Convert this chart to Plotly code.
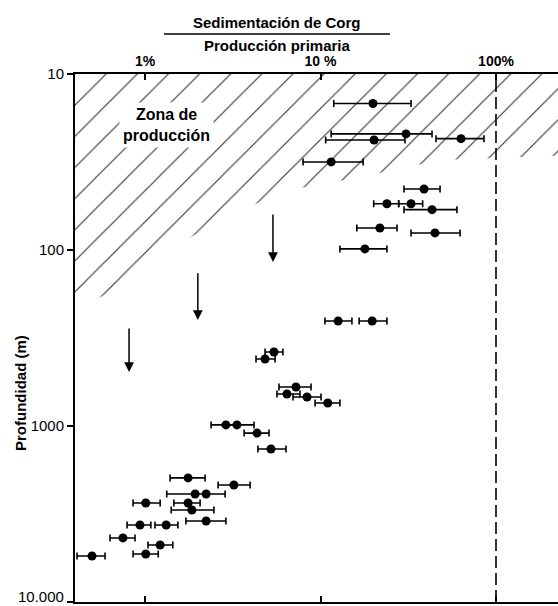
import numpy as np
import plotly.graph_objects as go

# --- data (ratio in %, depth in m) ---
ratio = [19.9, 30.7, 20.2, 63.2, 11.5, 38.9, 23.9, 32.8, 43.2, 21.8, 44.9, 17.9,
         12.6, 19.7, 5.43, 4.83, 7.25, 6.44, 8.38, 11.0, 2.89, 3.34, 4.35, 5.22,
         1.76, 3.21, 1.93, 2.23, 1.01, 1.76, 1.85, 0.936, 1.32, 2.23, 0.749, 1.22,
         0.499, 1.01]
ratio_lo = [11.9, 11.5, 10.7, 45.5, 7.95, 29.9, 20.1, 27.9, 29.9, 16.1, 32.8, 12.9,
            10.6, 16.6, 4.83, 4.29, 5.80, 5.65, 6.97, 9.31, 2.38, 2.89, 3.67, 4.40,
            1.39, 2.61, 1.33, 1.93, 0.855, 1.46, 1.41, 0.790, 1.14, 1.71, 0.632, 1.04,
            0.410, 0.855]
ratio_hi = [32.8, 43.2, 30.3, 85.4, 17.5, 48.0, 27.9, 38.2, 59.9, 27.3, 62.4, 23.9,
            15.1, 23.9, 6.11, 5.51, 8.83, 7.64, 10.07, 12.9, 3.34, 4.18, 5.09, 6.36,
            2.20, 3.97, 1.93, 2.86, 1.22, 2.06, 2.47, 1.08, 1.54, 2.89, 0.877, 1.44,
            0.592, 1.19]
depth = [14.7, 21.9, 23.7, 23.3, 31.6, 45.0, 54.6, 54.6, 59.0, 75.0, 80.0, 98.6,
         253, 253, 380, 416, 600, 658, 684, 740, 986, 986, 1097, 1352,
         1972, 2163, 2433, 2433, 2738, 2738, 3000, 3652, 3652, 3467, 4325, 4745,
         5482, 5337]

# upper-limit arrows (ratio %, depth top, depth bottom)
arrow_x = [5.36, 2.0, 0.811]
arrow_y0 = [61.7, 133, 274]
arrow_y1 = [117, 250, 493]

# production zone boundary
zone_x = [0.39, 0.74, 1.74, 3.39, 5.51, 7.64, 11.3, 23.3, 48.0, 300]
zone_y = [219, 162, 86.6, 60.0, 49.3, 44.5, 41.6, 36.1, 30.8, 28.8]

x_ticks = [1, 10, 100]
x_ticktext = ["1%", "10 %", "100%"]
y_ticks = [10, 100, 1000, 10000]
y_ticktext = ["10", "100", "1000", "10.000"]

FONT = "Liberation Sans, Arial, sans-serif"

fig = go.Figure()

# hatched production zone
poly_x = zone_x + [300, 0.39]
poly_y = zone_y + [8, 8]
fig.add_trace(go.Scatter(
    x=poly_x, y=poly_y, mode="lines", fill="toself",
    line=dict(width=0, color="rgba(0,0,0,0)"),
    fillcolor="white",
    fillpattern=dict(shape="/", size=22, solidity=0.05, fgcolor="#333",
                     bgcolor="white", fillmode="replace"),
    hoverinfo="skip", showlegend=False))

r = np.array(ratio)
fig.add_trace(go.Scatter(
    x=ratio, y=depth, mode="markers",
    marker=dict(color="black", size=9, line=dict(width=0)),
    error_x=dict(type="data", symmetric=False,
                 array=list(np.array(ratio_hi) - r),
                 arrayminus=list(r - np.array(ratio_lo)),
                 color="black", thickness=1.6, width=3.5),
    showlegend=False))

# dashed 100% line
fig.add_shape(type="line", xref="x", yref="paper", x0=100, x1=100, y0=0, y1=1,
              line=dict(color="black", width=1.6, dash="12px,5px"))

# arrows
for ax_, y0, y1 in zip(arrow_x, arrow_y0, arrow_y1):
    fig.add_annotation(x=np.log10(ax_), y=np.log10(y1), ax=np.log10(ax_), ay=np.log10(y0),
                       xref="x", yref="y", axref="x", ayref="y", text="",
                       showarrow=True, arrowhead=2, arrowsize=1.3, arrowwidth=1.5,
                       arrowcolor="black")

fig.add_annotation(x=np.log10(1.32), y=np.log10(19.5), xref="x", yref="y",
                   text="<b>Zona de<br>producción</b>", showarrow=False,
                   font=dict(family=FONT, size=16, color="black"),
                   bgcolor="white", borderpad=3)

# title (fraction)
fig.add_annotation(xref="paper", yref="paper", x=(277 - 75) / 483, y=1 + (74 - 23) / 528,
                   text="<b>Sedimentación de Corg</b>", showarrow=False,
                   font=dict(family=FONT, size=15, color="black"), yanchor="middle")
fig.add_annotation(xref="paper", yref="paper", x=(277 - 75) / 483, y=1 + (74 - 45) / 528,
                   text="<b>Producción primaria</b>", showarrow=False,
                   font=dict(family=FONT, size=15, color="black"), yanchor="middle")
fig.add_shape(type="line", xref="paper", yref="paper",
              x0=(164 - 75) / 483, x1=(390 - 75) / 483,
              y0=1 + (74 - 34) / 528, y1=1 + (74 - 34) / 528,
              line=dict(color="black", width=1.5))

# y title
fig.add_annotation(xref="paper", yref="paper", x=(20 - 75) / 483, y=(602 - 393) / 528,
                   text="<b>Profundidad (m)</b>", textangle=-90, showarrow=False,
                   font=dict(family=FONT, size=15, color="black"),
                   xanchor="center", yanchor="middle")

# bottom tick label placed slightly higher so it stays inside the page
fig.add_annotation(xref="paper", yref="paper", x=-(6 + 3) / 483, y=0,
                   text=y_ticktext[-1], showarrow=False, xanchor="right",
                   yanchor="bottom", yshift=-5,
                   font=dict(family=FONT, size=15, color="black"))

fig.update_layout(
    template="none",
    width=558, height=606,
    margin=dict(l=75, r=0, t=74, b=4),
    paper_bgcolor="white", plot_bgcolor="white",
    xaxis=dict(type="log", range=[-0.3989, 2.3533], side="top", automargin=False,
               tickvals=x_ticks, ticktext=x_ticktext, ticks="inside", ticklen=6,
               tickwidth=1.5, tickcolor="black", mirror="ticks",
               showline=True, linecolor="black", linewidth=2,
               showgrid=False, zeroline=False,
               tickfont=dict(family=FONT, size=14, color="black", weight="bold")),
    yaxis=dict(type="log", range=[4, 1], tickmode="array", automargin=False,
               tickvals=y_ticks, ticktext=y_ticktext[:-1] + [""], ticks="outside", ticklen=6,
               tickwidth=1.5, tickcolor="black",
               showline=True, linecolor="black", linewidth=2,
               showgrid=False, zeroline=False,
               tickfont=dict(family=FONT, size=15, color="black")),
)

fig.write_html("out.html")
